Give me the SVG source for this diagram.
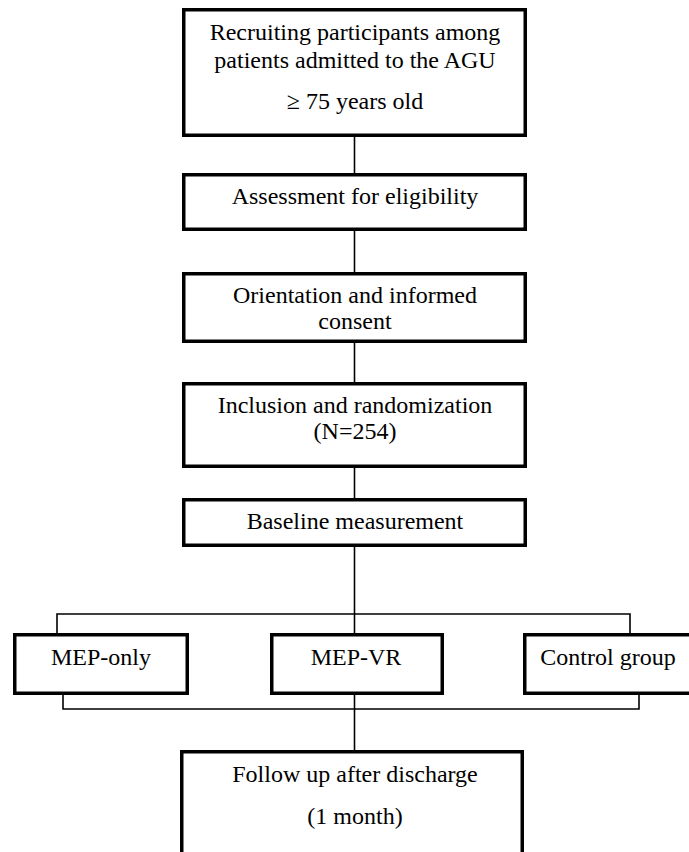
<svg xmlns="http://www.w3.org/2000/svg" width="689" height="852" viewBox="0 0 689 852">
<style>
.box{fill:#fff;stroke:#000;stroke-width:3.5}
.t{font-family:"Liberation Serif","Times New Roman",serif;font-size:24px;fill:#000;text-anchor:middle}
.c{fill:none;stroke:#000;stroke-width:1.6}
</style>
<rect width="689" height="852" fill="#fff"/>
<g id="connectors">
<line class="c" x1="354.5" y1="137" x2="354.5" y2="173"/>
<line class="c" x1="354.5" y1="231" x2="354.5" y2="272"/>
<line class="c" x1="354.5" y1="343" x2="354.5" y2="382"/>
<line class="c" x1="354.5" y1="468" x2="354.5" y2="498"/>
<line class="c" x1="354.5" y1="547" x2="354.5" y2="633"/>
<polyline class="c" points="57,633 57,614 630,614 630,633"/>
<polyline class="c" points="63,695 63,709 639,709 639,695"/>
<line class="c" x1="354.5" y1="695" x2="354.5" y2="750"/>
</g>
<g id="recruit">
<rect class="box" x="183.75" y="9.75" width="341.5" height="125.5"/>
<text class="t" x="355" y="40">Recruiting participants among</text>
<text class="t" x="355" y="68">patients admitted to the AGU</text>
<text class="t" x="355" y="109">≥ 75 years old</text>
</g>
<g id="eligibility">
<rect class="box" x="183.75" y="174.75" width="341.5" height="54.5"/>
<text class="t" x="355" y="204">Assessment for eligibility</text>
</g>
<g id="consent">
<rect class="box" x="183.75" y="273.75" width="341.5" height="67.5"/>
<text class="t" x="355" y="303">Orientation and informed</text>
<text class="t" x="355" y="329">consent</text>
</g>
<g id="inclusion">
<rect class="box" x="183.75" y="383.75" width="341.5" height="82.5"/>
<text class="t" x="355" y="413">Inclusion and randomization</text>
<text class="t" x="355" y="439">(N=254)</text>
</g>
<g id="baseline">
<rect class="box" x="183.75" y="499.75" width="341.5" height="45.5"/>
<text class="t" x="355" y="529">Baseline measurement</text>
</g>
<g id="mep-only">
<rect class="box" x="14.75" y="634.75" width="172.5" height="58.5"/>
<text class="t" x="101" y="665">MEP-only</text>
</g>
<g id="mep-vr">
<rect class="box" x="271.75" y="634.75" width="170.5" height="58.5"/>
<text class="t" x="356" y="665">MEP-VR</text>
</g>
<g id="control">
<rect class="box" x="524.75" y="634.75" width="170" height="58.5"/>
<text class="t" x="608" y="665">Control group</text>
</g>
<g id="followup">
<rect class="box" x="181.75" y="751.75" width="340.5" height="110"/>
<text class="t" x="355" y="782">Follow up after discharge</text>
<text class="t" x="355" y="824">(1 month)</text>
</g>
</svg>
